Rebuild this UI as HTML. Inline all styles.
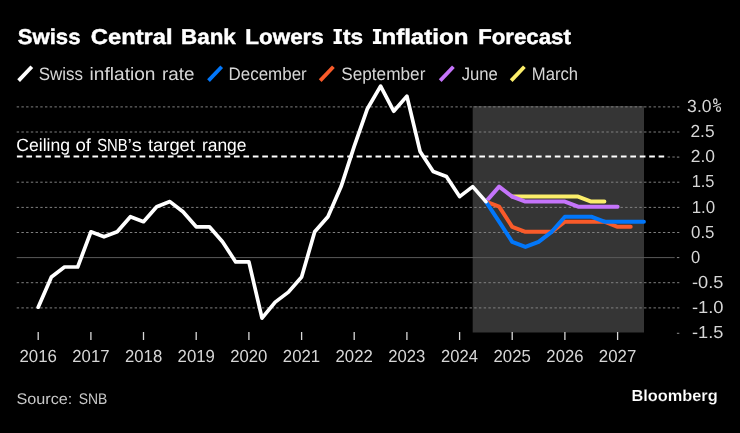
<!DOCTYPE html>
<html><head><meta charset="utf-8"><title>Swiss Central Bank Lowers Its Inflation Forecast</title>
<style>
html,body{margin:0;padding:0;background:#000;}
body{width:740px;height:433px;overflow:hidden;}
svg{display:block;will-change:transform;font-family:"Liberation Sans",sans-serif;text-rendering:geometricPrecision;}
.g{stroke:#808080;stroke-width:1;stroke-dasharray:2.4 2.317;}
.t{stroke:#d8d8d8;stroke-width:1.3;}
.ln{fill:none;stroke-width:4;stroke-linejoin:round;stroke-linecap:round;}
</style></head><body>
<svg width="740" height="433" viewBox="0 0 740 433">
<rect width="740" height="433" fill="#000"/>
<path fill="#fff" d="M333.5 28.9h8.4v2.6h-2.35v9.8h2.35v2.6h-8.4v-2.6h2.35v-9.8h-2.35z"/>
<path fill="#fff" d="M372.9 28.9h8.4v2.6h-2.35v9.8h2.35v2.6h-8.4v-2.6h2.35v-9.8h-2.35z"/>
<g fill="none" stroke="#d6d6d6" stroke-width="1.2"><ellipse cx="715.3" cy="101.2" rx="1.65" ry="2.35"/><ellipse cx="718.5" cy="109.1" rx="1.95" ry="2.35"/><line x1="713.2" y1="106.8" x2="721.0" y2="103.4" stroke-width="1.1"/></g>
<g stroke-width="3.8" stroke-linecap="butt">
<line x1="18.6" y1="80.6" x2="31.8" y2="66.8" stroke="#fff"/>
<line x1="208.5" y1="80.6" x2="221.7" y2="66.8" stroke="#0277fa"/>
<line x1="320.2" y1="80.6" x2="333.4" y2="66.8" stroke="#f95b2a"/>
<line x1="440.2" y1="80.6" x2="453.4" y2="66.8" stroke="#c574fb"/>
<line x1="511.2" y1="80.6" x2="524.4" y2="66.8" stroke="#fbee6a"/>
</g>
<rect x="472.7" y="106" width="171.3" height="226.5" fill="#353535"/>
<line x1="16.7" x2="679.3" y1="106.9" y2="106.9" class="g"/>
<line x1="16.7" x2="679.3" y1="132.0" y2="132.0" class="g"/>
<line x1="16.7" x2="679.3" y1="182.2" y2="182.2" class="g"/>
<line x1="16.7" x2="679.3" y1="207.4" y2="207.4" class="g"/>
<line x1="16.7" x2="679.3" y1="232.5" y2="232.5" class="g"/>
<line x1="16.7" x2="679.3" y1="282.7" y2="282.7" class="g"/>
<line x1="16.7" x2="679.3" y1="307.9" y2="307.9" class="g"/>
<line x1="676.9" x2="679.3" y1="157.1" y2="157.1" stroke="#8c8c8c" stroke-width="1"/>
<line x1="676.9" x2="679.3" y1="257.6" y2="257.6" stroke="#8c8c8c" stroke-width="1"/>
<line x1="676.9" x2="679.3" y1="333.3" y2="333.3" stroke="#8c8c8c" stroke-width="1"/>
<line x1="16.7" x2="674.7" y1="257.6" y2="257.6" stroke="#5a5a5a" stroke-width="1"/>
<line x1="667.65" x2="675" y1="157" y2="157" class="g"/>
<line x1="16.9" x2="664.2" y1="156.6" y2="156.6" stroke="#fff" stroke-width="2" stroke-dasharray="5.7 3.737"/>
<line x1="38.2" x2="38.2" y1="332" y2="340" class="t"/>
<line x1="90.9" x2="90.9" y1="332" y2="340" class="t"/>
<line x1="143.5" x2="143.5" y1="332" y2="340" class="t"/>
<line x1="196.2" x2="196.2" y1="332" y2="340" class="t"/>
<line x1="248.9" x2="248.9" y1="332" y2="340" class="t"/>
<line x1="301.6" x2="301.6" y1="332" y2="340" class="t"/>
<line x1="354.2" x2="354.2" y1="332" y2="340" class="t"/>
<line x1="406.9" x2="406.9" y1="332" y2="340" class="t"/>
<line x1="459.6" x2="459.6" y1="332" y2="340" class="t"/>
<line x1="512.2" x2="512.2" y1="332" y2="340" class="t"/>
<line x1="564.9" x2="564.9" y1="332" y2="340" class="t"/>
<line x1="617.6" x2="617.6" y1="332" y2="340" class="t"/>

<polyline class="ln" stroke="#fbee6a" points="512.2,196.6 525.4,196.6 538.6,196.6 551.7,196.6 564.9,196.6 578.1,196.6 591.2,201.6 604.4,201.6"/>
<polyline class="ln" stroke="#c574fb" points="485.9,201.6 499.1,186.6 512.2,196.6 525.4,201.6 538.6,201.6 551.7,201.6 564.9,201.6 578.1,206.7 591.2,206.7 604.4,206.7 617.6,206.7"/>
<polyline class="ln" stroke="#f95b2a" points="485.9,201.6 499.1,206.7 512.2,226.8 525.4,231.8 538.6,231.8 551.7,231.8 564.9,221.7 578.1,221.7 591.2,221.7 604.4,221.7 617.6,226.8 630.7,226.8"/>
<polyline class="ln" stroke="#0277fa" points="485.9,201.6 499.1,221.7 512.2,241.8 525.4,246.9 538.6,241.8 551.7,231.8 564.9,216.7 578.1,216.7 591.2,216.7 604.4,221.7 617.6,221.7 630.7,221.7 643.9,221.7"/>
<polyline class="ln" style="stroke-width:3.7" stroke="#fff" points="38.2,307.2 51.4,277.0 64.5,267.0 77.7,267.0 90.9,231.8 104.0,236.8 117.2,231.8 130.4,216.7 143.5,221.7 156.7,206.7 169.9,201.6 183.0,211.7 196.2,226.8 209.4,226.8 222.5,241.8 235.7,261.9 248.9,261.9 262.0,318.2 275.2,302.1 288.4,292.1 301.6,277.0 314.7,231.8 327.9,216.7 341.1,186.6 354.2,146.4 367.4,108.7 380.6,86.1 393.7,111.2 406.9,96.1 420.1,151.4 433.2,171.5 446.4,176.5 459.6,196.6 472.7,186.6 485.9,201.6"/>
<text x="17.82" y="44.0" font-size="21.4" font-weight="bold" fill="#fff" stroke="#fff" stroke-width="0.45" textLength="62.61" lengthAdjust="spacingAndGlyphs">Swiss</text>
<text x="90.86" y="44.0" font-size="21.4" font-weight="bold" fill="#fff" stroke="#fff" stroke-width="0.45" textLength="81.67" lengthAdjust="spacingAndGlyphs">Central</text>
<text x="181.05" y="44.0" font-size="21.4" font-weight="bold" fill="#fff" stroke="#fff" stroke-width="0.45" textLength="54.77" lengthAdjust="spacingAndGlyphs">Bank</text>
<text x="245.34" y="44.0" font-size="21.4" font-weight="bold" fill="#fff" stroke="#fff" stroke-width="0.45" textLength="78.48" lengthAdjust="spacingAndGlyphs">Lowers</text>
<text x="342.90" y="44.0" font-size="21.4" font-weight="bold" fill="#fff" stroke="#fff" stroke-width="0.45" textLength="20.05" lengthAdjust="spacingAndGlyphs">ts</text>
<text x="381.43" y="44.0" font-size="21.4" font-weight="bold" fill="#fff" stroke="#fff" stroke-width="0.45" textLength="86.97" lengthAdjust="spacingAndGlyphs">nflation</text>
<text x="478.15" y="44.0" font-size="21.4" font-weight="bold" fill="#fff" stroke="#fff" stroke-width="0.45" textLength="92.76" lengthAdjust="spacingAndGlyphs">Forecast</text>
<text x="38.68" y="80.0" font-size="18.0" font-weight="normal" fill="#d6d6d6"  textLength="44.37" lengthAdjust="spacingAndGlyphs">Swiss</text>
<text x="89.59" y="80.0" font-size="18.0" font-weight="normal" fill="#d6d6d6"  textLength="65.90" lengthAdjust="spacingAndGlyphs">inflation</text>
<text x="161.97" y="80.0" font-size="18.0" font-weight="normal" fill="#d6d6d6"  textLength="32.56" lengthAdjust="spacingAndGlyphs">rate</text>
<text x="228.50" y="80.0" font-size="18.0" font-weight="normal" fill="#d6d6d6"  textLength="78.26" lengthAdjust="spacingAndGlyphs">December</text>
<text x="341.22" y="80.0" font-size="18.0" font-weight="normal" fill="#d6d6d6"  textLength="84.18" lengthAdjust="spacingAndGlyphs">September</text>
<text x="461.63" y="80.0" font-size="18.0" font-weight="normal" fill="#d6d6d6"  textLength="36.17" lengthAdjust="spacingAndGlyphs">June</text>
<text x="531.86" y="80.0" font-size="18.0" font-weight="normal" fill="#d6d6d6"  textLength="46.16" lengthAdjust="spacingAndGlyphs">March</text>
<text x="16.25" y="151.0" font-size="17.6" font-weight="normal" fill="#fff"  textLength="53.80" lengthAdjust="spacingAndGlyphs">Ceiling</text>
<text x="75.53" y="151.0" font-size="17.6" font-weight="normal" fill="#fff"  textLength="15.53" lengthAdjust="spacingAndGlyphs">of</text>
<text x="97.20" y="151.0" font-size="17.6" font-weight="normal" fill="#fff"  textLength="30.53" lengthAdjust="spacingAndGlyphs">SNB</text>
<text x="127.58" y="151.0" font-size="17.6" font-weight="normal" fill="#fff"  textLength="14.07" lengthAdjust="spacingAndGlyphs">’s</text>
<text x="147.95" y="151.0" font-size="17.6" font-weight="normal" fill="#fff"  textLength="47.01" lengthAdjust="spacingAndGlyphs">target</text>
<text x="201.90" y="151.0" font-size="17.6" font-weight="normal" fill="#fff"  textLength="44.61" lengthAdjust="spacingAndGlyphs">range</text>
<text x="19.49" y="362.0" font-size="17.4" font-weight="normal" fill="#d6d6d6"  textLength="37.47" lengthAdjust="spacingAndGlyphs">2016</text>
<text x="72.33" y="362.0" font-size="17.4" font-weight="normal" fill="#d6d6d6"  textLength="37.15" lengthAdjust="spacingAndGlyphs">2017</text>
<text x="125.00" y="362.0" font-size="17.4" font-weight="normal" fill="#d6d6d6"  textLength="37.17" lengthAdjust="spacingAndGlyphs">2018</text>
<text x="177.59" y="362.0" font-size="17.4" font-weight="normal" fill="#d6d6d6"  textLength="37.39" lengthAdjust="spacingAndGlyphs">2019</text>
<text x="230.18" y="362.0" font-size="17.4" font-weight="normal" fill="#d6d6d6"  textLength="37.23" lengthAdjust="spacingAndGlyphs">2020</text>
<text x="282.84" y="362.0" font-size="17.4" font-weight="normal" fill="#d6d6d6"  textLength="37.36" lengthAdjust="spacingAndGlyphs">2021</text>
<text x="335.47" y="362.0" font-size="17.4" font-weight="normal" fill="#d6d6d6"  textLength="37.32" lengthAdjust="spacingAndGlyphs">2022</text>
<text x="388.27" y="362.0" font-size="17.4" font-weight="normal" fill="#d6d6d6"  textLength="37.12" lengthAdjust="spacingAndGlyphs">2023</text>
<text x="441.03" y="362.0" font-size="17.4" font-weight="normal" fill="#d6d6d6"  textLength="36.86" lengthAdjust="spacingAndGlyphs">2024</text>
<text x="493.55" y="362.0" font-size="17.4" font-weight="normal" fill="#d6d6d6"  textLength="37.31" lengthAdjust="spacingAndGlyphs">2025</text>
<text x="546.37" y="362.0" font-size="17.4" font-weight="normal" fill="#d6d6d6"  textLength="37.15" lengthAdjust="spacingAndGlyphs">2026</text>
<text x="598.82" y="362.0" font-size="17.4" font-weight="normal" fill="#d6d6d6"  textLength="37.43" lengthAdjust="spacingAndGlyphs">2027</text>
<text x="687.13" y="112.0" font-size="17.4" font-weight="normal" fill="#d6d6d6"  textLength="24.41" lengthAdjust="spacingAndGlyphs">3.0</text>
<text x="690.48" y="137.0" font-size="17.4" font-weight="normal" fill="#d6d6d6"  textLength="24.12" lengthAdjust="spacingAndGlyphs">2.5</text>
<text x="690.83" y="162.0" font-size="17.4" font-weight="normal" fill="#d6d6d6"  textLength="24.25" lengthAdjust="spacingAndGlyphs">2.0</text>
<text x="691.65" y="187.0" font-size="17.4" font-weight="normal" fill="#d6d6d6"  textLength="22.81" lengthAdjust="spacingAndGlyphs">1.5</text>
<text x="691.70" y="213.0" font-size="17.4" font-weight="normal" fill="#d6d6d6"  textLength="23.49" lengthAdjust="spacingAndGlyphs">1.0</text>
<text x="691.03" y="238.0" font-size="17.4" font-weight="normal" fill="#d6d6d6"  textLength="23.47" lengthAdjust="spacingAndGlyphs">0.5</text>
<text x="690.90" y="263.0" font-size="17.4" font-weight="normal" fill="#d6d6d6"  textLength="9.20" lengthAdjust="spacingAndGlyphs">0</text>
<text x="691.98" y="288.0" font-size="17.4" font-weight="normal" fill="#d6d6d6"  textLength="31.36" lengthAdjust="spacingAndGlyphs">-0.5</text>
<text x="691.90" y="313.0" font-size="17.4" font-weight="normal" fill="#d6d6d6"  textLength="31.62" lengthAdjust="spacingAndGlyphs">-1.0</text>
<text x="691.98" y="338.0" font-size="17.4" font-weight="normal" fill="#d6d6d6"  textLength="31.36" lengthAdjust="spacingAndGlyphs">-1.5</text>
<text x="16.45" y="404.0" font-size="15.4" font-weight="normal" fill="#c8c8c8"  textLength="55.81" lengthAdjust="spacingAndGlyphs">Source:</text>
<text x="78.77" y="404.0" font-size="15.4" font-weight="normal" fill="#c8c8c8"  textLength="28.59" lengthAdjust="spacingAndGlyphs">SNB</text>
<text x="631.43" y="401.0" font-size="16" font-weight="bold" fill="#fff" stroke="#000" stroke-width="0.15" textLength="86.19" lengthAdjust="spacingAndGlyphs">Bloomberg</text>
</svg>
</body></html>
